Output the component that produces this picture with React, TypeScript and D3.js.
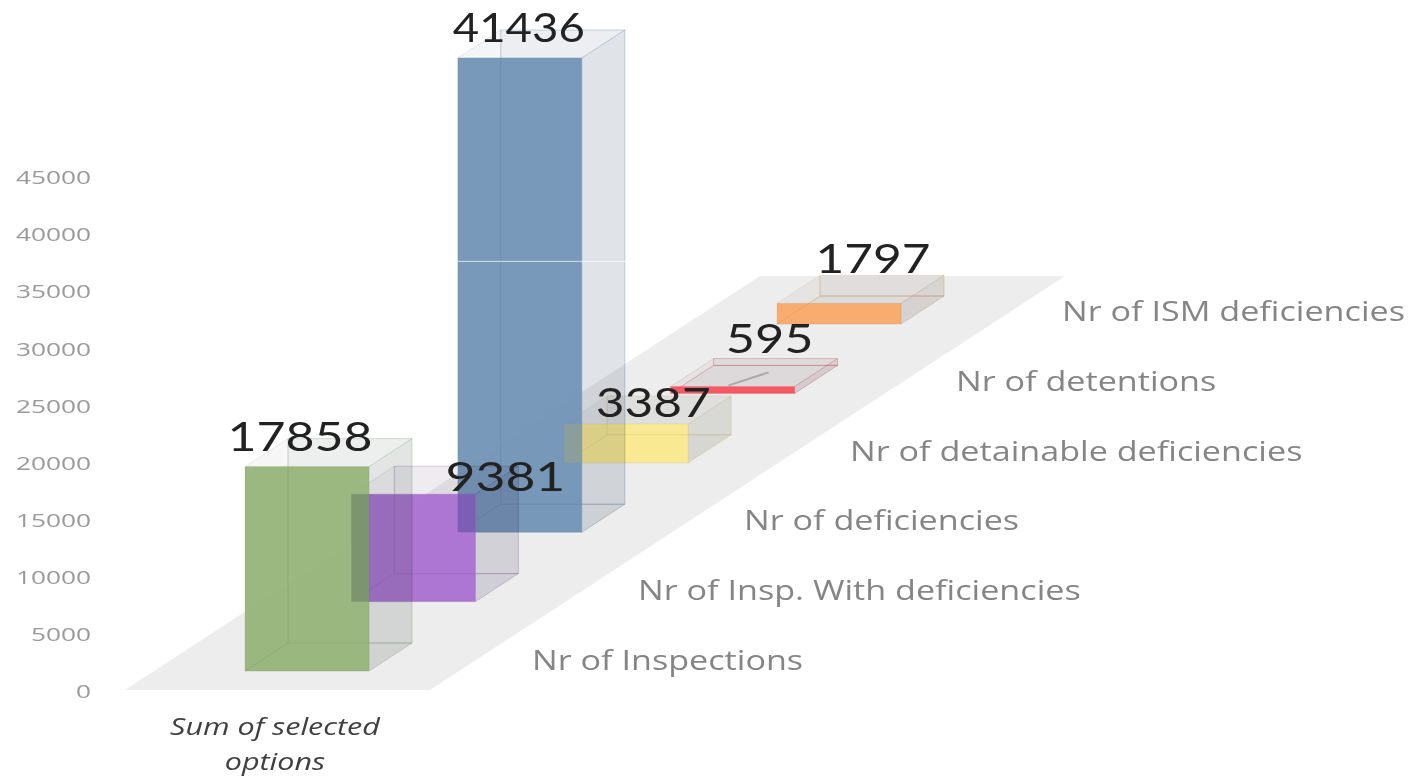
import React, { useEffect, useRef } from 'react'
import * as d3 from 'd3'

const categories = [
  'Nr of Inspections',
  'Nr of Insp. With deficiencies',
  'Nr of deficiencies',
  'Nr of detainable deficiencies',
  'Nr of detentions',
  'Nr of ISM deficiencies',
]
const values = [17858, 9381, 41436, 3387, 595, 1797]
const barColors = ['#95b479', '#a86fd0', '#7093b5', '#f9e98c', '#f7505a', '#f9a868']
const overlapColors = ['#7d9470', '#7c5fb4', '#8a9f9b']
const yTicks = [0, 5000, 10000, 15000, 20000, 25000, 30000, 35000, 40000, 45000]
const axisTitle = ['Sum of selected', 'options']

// the value labels were placed by hand in the original, not on the bars
const labelNudgeX = [-7, 92, -1, 27, 37, 34]
const labelNudgeY = [-16, -3, -16, -7, -34, -30]
const labelStretch = [1.22, 1.26, 1.11, 1.21, 1.23, 1.21]

const width = 1420
const height = 776
const barWidth = 124
const depth = { x: 43, y: -28 }

const App = () => {
  const ref = useRef<SVGSVGElement>(null)

  useEffect(() => {
    const svg = d3.select(ref.current)
    svg.selectAll('*').remove()

    const xPos = d3.scalePoint<string>().domain(categories).range([245, 777])
    const yPos = d3.scalePoint<string>().domain(categories).range([671, 324])
    const yAxis = d3.scaleLinear().domain([0, 45000]).range([692, 178])
    const barH = d3.scaleLinear().domain([0, 45000]).range([0, 515])

    // floor
    svg
      .append('path')
      .attr('d', d3.line()([[125, 690], [430, 690], [1065, 276], [760, 276]]) + 'Z')
      .attr('fill', '#ededed')

    const axis = d3.axisLeft(yAxis).tickValues(yTicks).tickSize(0).tickPadding(0).tickFormat(d3.format('d') as any)
    const axisG = svg.append('g').attr('transform', 'translate(91,0)').call(axis)
    axisG.select('.domain').remove()
    axisG
      .selectAll('text')
      .attr('transform', 'scale(1.46,1)')
      .attr('font-family', '"Open Sans"')
      .attr('font-size', 18)
      .attr('fill', '#9a9a9a')

    // back to front, so the nearer bars sit over the farther ones
    const order = d3.range(categories.length).reverse()
    const bars = svg
      .selectAll('g.bar')
      .data(order)
      .enter()
      .append('g')
      .attr('class', 'bar')

    const line = d3.line()

    bars.each(function (i) {
      const g = d3.select(this)
      const x0 = xPos(categories[i]) as number
      const y0 = yPos(categories[i]) as number
      const x1 = x0 + barWidth
      const top = y0 - barH(values[i])
      const c = barColors[i]
      const faint = d3.interpolateRgb(c, '#d3d6da')(0.88)
      const edge = d3.interpolateRgb(c, '#b0b5ba')(0.35)

      // multiply lets the farther bars show through the glass
      const face = (pts: [number, number][], fill: string, op: number) =>
        g
          .append('path')
          .attr('d', line(pts) + 'Z')
          .attr('fill', fill)
          .attr('fill-opacity', op)
          .attr('stroke', edge)
          .attr('stroke-opacity', 0.22)
          .style('mix-blend-mode', 'multiply')

      // back, floor, top and side faces of the glass box
      face([[x0 + depth.x, top + depth.y], [x1 + depth.x, top + depth.y], [x1 + depth.x, y0 + depth.y], [x0 + depth.x, y0 + depth.y]], faint, 0.15)
      face([[x0, y0], [x1, y0], [x1 + depth.x, y0 + depth.y], [x0 + depth.x, y0 + depth.y]], faint, 0.2)
      face([[x1, top], [x1 + depth.x, top + depth.y], [x1 + depth.x, y0 + depth.y], [x1, y0]], faint, 0.42)
      face([[x0, top], [x1, top], [x1 + depth.x, top + depth.y], [x0 + depth.x, top + depth.y]], faint, 0.2)

      const dark = d3.color(c)!.darker(0.8).formatHex()
      g.append('rect')
        .attr('x', x0)
        .attr('y', top)
        .attr('width', barWidth)
        .attr('height', y0 - top)
        .attr('fill', c)
        .attr('fill-opacity', 0.94)
        .attr('stroke', dark)
        .attr('stroke-opacity', 0.15)

      // hidden edge showing through the front
      g.append('path')
        .attr('d', line([[x0 + depth.x, top + depth.y], [x0 + depth.x, y0 + depth.y], [x1 + depth.x, y0 + depth.y]]))
        .attr('fill', 'none')
        .attr('stroke', dark)
        .attr('stroke-opacity', 0.22)
      g.append('path')
        .attr('d', line([[x0, y0], [x0 + depth.x, y0 + depth.y]]))
        .attr('stroke', dark)
        .attr('stroke-opacity', 0.2)
    })

    // where a nearer bar overlaps the next one, the two colours mix darker
    overlapColors.forEach((fill, i) => {
      const near = categories[i]
      const far = categories[i + 1]
      const x0 = xPos(far) as number
      const x1 = (xPos(near) as number) + barWidth
      const y0 = (yPos(near) as number) - barH(values[i])
      const y1 = yPos(far) as number
      const farTop = y1 - barH(values[i + 1])
      const top = Math.max(y0, farTop)
      svg
        .append('rect')
        .attr('x', x0)
        .attr('y', top)
        .attr('width', x1 - x0)
        .attr('height', y1 - top)
        .attr('fill', fill)
    })

    // stray leader line inside the detentions bar
    const ix = xPos(categories[4]) as number
    const iy = yPos(categories[4]) as number
    svg
      .append('line')
      .attr('x1', ix + 58)
      .attr('y1', iy - 8)
      .attr('x2', ix + 98)
      .attr('y2', iy - 21)
      .attr('stroke', '#a9a9a9')
      .attr('stroke-width', 2)

    // white gridline that cuts across the tall bar
    svg
      .append('line')
      .attr('x1', 458)
      .attr('x2', 627)
      .attr('y1', yAxis(37700))
      .attr('y2', yAxis(37700))
      .attr('stroke', '#ffffff')
      .attr('stroke-opacity', 0.7)

    // category labels
    const labelX = d3.scalePoint<string>().domain(categories).range([532, 1062])
    const labelY = d3.scalePoint<string>().domain(categories).range([670, 321])
    svg
      .selectAll('text.cat')
      .data(categories)
      .enter()
      .append('text')
      .attr('class', 'cat')
      .attr('transform', (d) => `translate(${labelX(d)},${labelY(d)}) scale(1.22,1)`)
      .attr('font-family', '"Open Sans"')
      .attr('font-size', 28)
      .attr('fill', '#858585')
      .text((d) => d)

    // value labels
    svg
      .selectAll('text.val')
      .data(values)
      .enter()
      .append('text')
      .attr('class', 'val')
      .attr('transform', (d, i) => {
        const x = (xPos(categories[i]) as number) + barWidth / 2 + labelNudgeX[i]
        const y = (yPos(categories[i]) as number) - barH(d) + labelNudgeY[i]
        return `translate(${x},${y}) scale(${labelStretch[i]},1)`
      })
      .attr('text-anchor', 'middle')
      .attr('font-family', 'Lato')
      .attr('font-size', 41)
      .attr('fill', '#222222')
      .text((d) => d)

    // x axis title
    svg
      .selectAll('text.title')
      .data(axisTitle)
      .enter()
      .append('text')
      .attr('class', 'title')
      .attr('transform', (d, i) => `translate(275,${735 + i * 35}) scale(1.27,1)`)
      .attr('text-anchor', 'middle')
      .attr('font-family', '"Open Sans"')
      .attr('font-style', 'italic')
      .attr('font-size', 24)
      .attr('fill', '#404040')
      .text((d) => d)
  }, [])

  return (
    <svg
      ref={ref}
      width={width}
      height={height}
      viewBox={`0 0 ${width} ${height}`}
      style={{ position: 'fixed', left: 0, top: 0, background: '#ffffff' }}
    />
  )
}

export default App
